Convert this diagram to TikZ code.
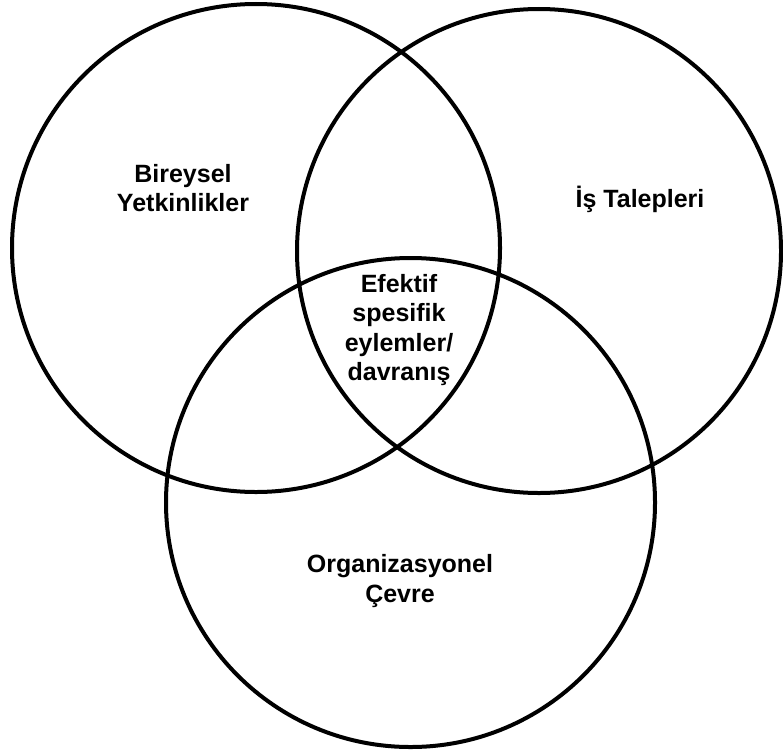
\documentclass[tikz,border=0pt]{standalone}
\usepackage{fontspec}
\setmainfont{Liberation Sans}
\begin{document}
\begin{tikzpicture}[x=1pt,y=-1pt,
  ring/.style={draw=black, line width=4pt},
  label/.style={font=\bfseries\fontsize{25}{29.5}\selectfont, align=center, inner sep=0pt}]
  \useasboundingbox (0,0) rectangle (783,752);
  % the three overlapping circles
  \draw[ring] (256,248) circle[radius=244pt];
  \draw[ring] (539,251) circle[radius=242pt];
  \draw[ring] (410.5,502.5) circle[radius=244.5pt];
  % labels
  \node[label] (bireysel) at (183,188) {Bireysel\\Yetkinlikler};
  \node[label] (is) at (640,199.5) {İş Talepleri};
  \node[label] (efektif) at (399,330) {Efektif\\spesifik\\eylemler/\\davranış};
  \node[label] (org) at (400,581) {Organizasyonel\\Çevre};
\end{tikzpicture}
\end{document}
